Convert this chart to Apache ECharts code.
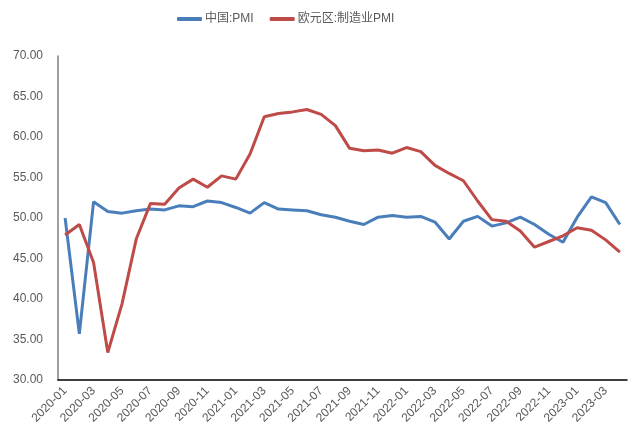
<!DOCTYPE html>
<html>
<head>
<meta charset="utf-8">
<script src="https://cdn.jsdelivr.net/npm/echarts@6/dist/echarts.min.js"></script>
<style>
  html, body { margin: 0; padding: 0; background: #fff; }
  #chart { width: 632px; height: 433px; }
</style>
</head>
<body>
<div id="chart"></div>
<script>
// 月份
const months = [];
for (let y = 2020; y <= 2023; y++) {
  for (let m = 1; m <= 12; m++) {
    if (y === 2023 && m > 4) break;
    months.push(y + '-' + (m < 10 ? '0' + m : m));
  }
}

// 中国:PMI
const chinaPmi = [
  50.0, 35.7, 52.0, 50.8, 50.6, 50.9, 51.1, 51.0, 51.5, 51.4, 52.1, 51.9,
  51.3, 50.6, 51.9, 51.1, 51.0, 50.9, 50.4, 50.1, 49.6, 49.2, 50.1, 50.3,
  50.1, 50.2, 49.5, 47.4, 49.6, 50.2, 49.0, 49.4, 50.1, 49.2, 48.0, 47.0,
  50.1, 52.6, 51.9, 49.2
];

// 欧元区:制造业PMI
const euroPmi = [
  47.9, 49.2, 44.5, 33.4, 39.4, 47.4, 51.8, 51.7, 53.7, 54.8, 53.8, 55.2,
  54.8, 57.9, 62.5, 62.9, 63.1, 63.4, 62.8, 61.4, 58.6, 58.3, 58.4, 58.0,
  58.7, 58.2, 56.5, 55.5, 54.6, 52.1, 49.8, 49.6, 48.4, 46.4, 47.1, 47.8,
  48.8, 48.5, 47.3, 45.8
];

const chart = echarts.init(document.getElementById('chart'));

const font = "'Liberation Sans', 'Noto Sans CJK SC', sans-serif";

const option = {
  backgroundColor: '#ffffff',
  color: ['#4a7ebb', '#be4b48'],
  textStyle: { fontFamily: font },
  legend: {
    top: 8,
    left: 172,
    icon: 'roundRect',
    itemWidth: 25,
    itemHeight: 4,
    itemGap: 16,
    textStyle: { color: '#595959', fontSize: 12, fontFamily: font, padding: [0, 0, 0, -2] },
    data: ['中国:PMI', '欧元区:制造业PMI']
  },
  grid: { left: 58, right: 5, top: 56, bottom: 53, containLabel: false },
  xAxis: {
    type: 'category',
    data: months,
    boundaryGap: true,
    axisLine: { lineStyle: { color: '#000', width: 1.5 } },
    axisTick: { show: false },
    axisLabel: {
      interval: 1,
      rotate: 45,
      color: '#595959',
      fontSize: 12,
      margin: 9
    }
  },
  yAxis: {
    type: 'value',
    min: 30,
    max: 70,
    interval: 5,
    axisLine: { show: true, lineStyle: { color: '#7f7f7f', width: 1.5 } },
    axisTick: { show: false },
    splitLine: { show: false },
    axisLabel: {
      color: '#595959',
      fontSize: 12,
      margin: 15,
      formatter: v => v.toFixed(2)
    }
  },
  series: [
    {
      name: '中国:PMI',
      type: 'line',
      data: chinaPmi,
      symbol: 'none',
      lineStyle: { width: 3 }
    },
    {
      name: '欧元区:制造业PMI',
      type: 'line',
      data: euroPmi,
      symbol: 'none',
      lineStyle: { width: 3 }
    }
  ]
};

chart.setOption(option);
</script>
</body>
</html>
